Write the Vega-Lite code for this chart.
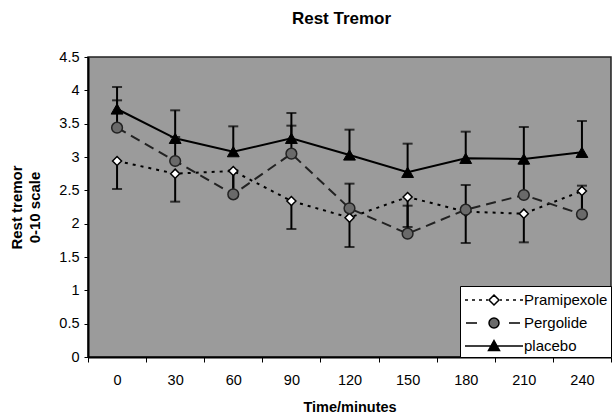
{
  "$schema": "https://vega.github.io/schema/vega-lite/v6.json",
  "width": 523,
  "height": 300,
  "autosize": {"type": "none"},
  "padding": {"left": 88, "top": 57, "right": 1, "bottom": 62},
  "background": "white",
  "config": {
    "font": "Liberation Sans",
    "view": {"fill": "#9b9b9b", "stroke": "#222222", "strokeWidth": 1.5},
    "axis": {"grid": false, "domainColor": "black", "domainWidth": 2, "tickColor": "black", "tickWidth": 1, "labelFontSize": 14.5, "labelColor": "black", "titleFontSize": 15, "titleColor": "black", "titleFontWeight": "bold", "labelFont": "Liberation Sans", "titleFont": "Liberation Sans"},
    "axisX": {"tickBand": "extent", "tickSize": 5, "labelPadding": 11, "labelAngle": 0, "titlePadding": 14, "titleFontSize": 14.5},
    "axisY": {"tickSize": 4, "labelPadding": 5, "titlePadding": 16, "titleLineHeight": 18}
  },
  "title": {"text": "Rest Tremor", "fontSize": 17, "fontWeight": "bold", "color": "black", "font": "Liberation Sans", "offset": 21, "dx": -8},
  "data": {"values": [
    {"series": "Pramipexole", "time": 0, "value": 2.94, "bar": 2.52},
    {"series": "Pramipexole", "time": 30, "value": 2.75, "bar": 2.33},
    {"series": "Pramipexole", "time": 60, "value": 2.79, "bar": 2.45},
    {"series": "Pramipexole", "time": 90, "value": 2.34, "bar": 1.92},
    {"series": "Pramipexole", "time": 120, "value": 2.09, "bar": 1.65},
    {"series": "Pramipexole", "time": 150, "value": 2.40, "bar": 1.95},
    {"series": "Pramipexole", "time": 180, "value": 2.18, "bar": 1.71},
    {"series": "Pramipexole", "time": 210, "value": 2.15, "bar": 1.72},
    {"series": "Pramipexole", "time": 240, "value": 2.49, "bar": 2.12},
    {"series": "Pergolide", "time": 0, "value": 3.44, "bar": 3.85},
    {"series": "Pergolide", "time": 30, "value": 2.94, "bar": 3.30},
    {"series": "Pergolide", "time": 60, "value": 2.44, "bar": 2.80},
    {"series": "Pergolide", "time": 90, "value": 3.05, "bar": 3.47},
    {"series": "Pergolide", "time": 120, "value": 2.23, "bar": 2.60},
    {"series": "Pergolide", "time": 150, "value": 1.85, "bar": 2.27},
    {"series": "Pergolide", "time": 180, "value": 2.21, "bar": 2.58},
    {"series": "Pergolide", "time": 210, "value": 2.43, "bar": 2.90},
    {"series": "Pergolide", "time": 240, "value": 2.14, "bar": 2.57},
    {"series": "placebo", "time": 0, "value": 3.72, "bar": 4.05},
    {"series": "placebo", "time": 30, "value": 3.28, "bar": 3.70},
    {"series": "placebo", "time": 60, "value": 3.08, "bar": 3.46},
    {"series": "placebo", "time": 90, "value": 3.28, "bar": 3.66},
    {"series": "placebo", "time": 120, "value": 3.03, "bar": 3.41},
    {"series": "placebo", "time": 150, "value": 2.77, "bar": 3.20},
    {"series": "placebo", "time": 180, "value": 2.98, "bar": 3.38},
    {"series": "placebo", "time": 210, "value": 2.97, "bar": 3.45},
    {"series": "placebo", "time": 240, "value": 3.07, "bar": 3.54}
  ]},
  "encoding": {
    "x": {"field": "time", "type": "ordinal", "title": "Time/minutes", "scale": {"paddingInner": 0, "paddingOuter": 0}},
    "y": {"field": "value", "type": "quantitative", "title": ["Rest tremor", "0-10 scale"], "scale": {"domain": [0, 4.5], "nice": false}, "axis": {"values": [0, 0.5, 1, 1.5, 2, 2.5, 3, 3.5, 4, 4.5], "format": "~g"}}
  },
  "layer": [
    {
      "mark": {"type": "rule", "color": "black", "strokeWidth": 2},
      "encoding": {
        "y2": {"field": "bar"},
        "opacity": {"field": "series", "type": "nominal", "scale": {"domain": ["Pramipexole", "Pergolide", "placebo"], "range": [1, 1, 1]},
          "legend": {
            "title": null, "orient": "bottom-right", "offset": 0, "fillColor": "white", "strokeColor": "black",
            "padding": 3, "rowPadding": 4, "symbolSize": 400, "symbolType": "circle", "symbolOffset": 20, "labelOffset": 19,
            "labelFontSize": 15, "labelColor": "black", "labelFont": "Liberation Sans", "symbolStrokeWidth": 1.5, "symbolStrokeColor": "black",
            "encode": {"symbols": {"update": {
              "shape": {"signal": "datum.value === 'placebo' ? 'M-2.9,0H2.9M0,-0.55L0.55,0.45L-0.55,0.45Z' : datum.value === 'Pergolide' ? 'M-2.8,0H-1.7M1.5,0H2.6M-0.5,0A0.5,0.5 0 1,0 0.5,0A0.5,0.5 0 1,0 -0.5,0Z' : 'M-2.9,0H-2.6M-2.2,0H-1.9M-1.5,0H-1.2M-0.8,0H-0.6M0.6,0H0.8M1.2,0H1.5M1.9,0H2.2M2.6,0H2.9M0,-0.5L0.5,0L0,0.5L-0.5,0Z'"},
              "fill": {"signal": "datum.value === 'placebo' ? 'black' : datum.value === 'Pergolide' ? '#6a6a6a' : 'white'"},
              "stroke": {"value": "black"},
              "strokeWidth": {"value": 1.5},
              "size": {"value": 400},
              "opacity": {"value": 1}
            }}}
          }
        }
      }
    },
    {
      "mark": {"type": "tick", "color": "black", "thickness": 2, "size": 10},
      "encoding": {
        "y": {"field": "bar", "type": "quantitative", "title": ["Rest tremor", "0-10 scale"], "scale": {"domain": [0, 4.5], "nice": false}, "axis": {"values": [0, 0.5, 1, 1.5, 2, 2.5, 3, 3.5, 4, 4.5], "format": "~g"}}
      }
    },
    {
      "transform": [{"filter": "datum.series === 'Pramipexole'"}],
      "mark": {"type": "line", "color": "black", "strokeWidth": 2, "strokeDash": [3, 5]}
    },
    {
      "transform": [{"filter": "datum.series === 'Pergolide'"}],
      "mark": {"type": "line", "color": "#222222", "strokeWidth": 2, "strokeDash": [10, 6]}
    },
    {
      "transform": [{"filter": "datum.series === 'placebo'"}],
      "mark": {"type": "line", "color": "black", "strokeWidth": 2}
    },
    {
      "transform": [{"filter": "datum.series === 'Pramipexole'"}],
      "mark": {"type": "point", "shape": "diamond", "fill": "white", "stroke": "black", "strokeWidth": 1.5, "size": 81, "opacity": 1}
    },
    {
      "transform": [{"filter": "datum.series === 'Pergolide'"}],
      "mark": {"type": "point", "shape": "circle", "fill": "#6a6a6a", "stroke": "#222222", "strokeWidth": 1.5, "size": 115, "opacity": 1}
    },
    {
      "transform": [{"filter": "datum.series === 'placebo'"}],
      "mark": {"type": "point", "shape": "triangle-up", "fill": "black", "stroke": "black", "strokeWidth": 1, "size": 140, "opacity": 1}
    }
  ]
}
